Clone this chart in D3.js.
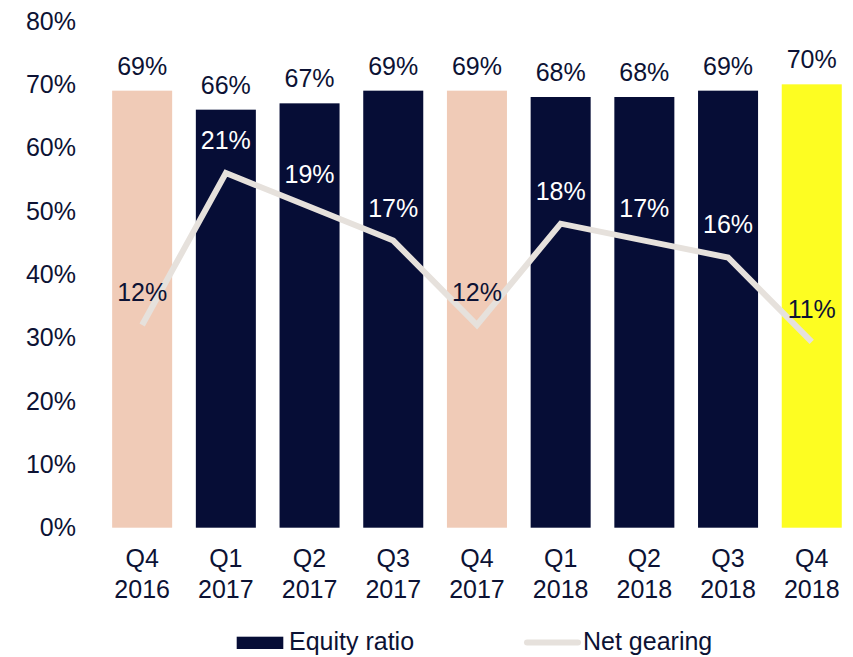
<!DOCTYPE html>
<html>
<head>
<meta charset="utf-8">
<script src="https://cdn.jsdelivr.net/npm/d3@7"></script>
<style>
  body { margin: 0; background: #fff; }
  svg text { font-family: "Liberation Sans", Arial, sans-serif; }
</style>
</head>
<body>
<div id="chart"></div>
<script>
'use strict';

var quarters = ['Q4', 'Q1', 'Q2', 'Q3', 'Q4', 'Q1', 'Q2', 'Q3', 'Q4'];
var years = ['2016', '2017', '2017', '2017', '2017', '2018', '2018', '2018', '2018'];
var equityRatio = [69, 66, 67, 69, 69, 68, 68, 69, 70];
var netGearing = [12, 21, 19, 17, 12, 18, 17, 16, 11];
var yTicks = [0, 10, 20, 30, 40, 50, 60, 70, 80];

var myApp = {};
myApp.w = 853;
myApp.h = 657;
myApp.fs = '25px';
myApp.navy = '#060d36';
myApp.peach = '#f0cbb7';
myApp.yellow = '#fdfd22';
myApp.lineCol = '#e6e1dc';
myApp.textCol = '#0c1234';

myApp.barColor = function(i) {
    if (i === 0 || i === 4) return myApp.peach;
    if (i === 8) return myApp.yellow;
    return myApp.navy;
};

myApp.run = function() {
    var svg = d3.select('#chart').append('svg')
        .attr('width', myApp.w)
        .attr('height', myApp.h);

    var idx = d3.range(equityRatio.length);

    var x = d3.scaleBand()
        .domain(idx)
        .range([100.3, 853.6])
        .paddingInner(0.283)
        .paddingOuter(0.1415);

    var y = d3.scaleLinear().domain([0, 80]).range([527.7, 21]);
    // net gearing sits on a hidden secondary axis, 0-30%
    var y2 = d3.scaleLinear().domain([0, 30]).range([527.7, 21]);

    // y axis labels
    svg.append('g').selectAll('text')
        .data(yTicks)
        .enter().append('text')
        .attr('x', 76)
        .attr('y', function(d) { return y(d); })
        .attr('dy', '0.35em')
        .attr('text-anchor', 'end')
        .style('font-size', myApp.fs)
        .style('fill', myApp.textCol)
        .text(function(d) { return d + '%'; });

    // bars
    svg.append('g').selectAll('rect')
        .data(idx)
        .enter().append('rect')
        .attr('x', function(i) { return x(i); })
        .attr('y', function(i) { return y(equityRatio[i]); })
        .attr('width', x.bandwidth())
        .attr('height', function(i) { return y(0) - y(equityRatio[i]); })
        .style('fill', function(i) { return myApp.barColor(i); });

    // bar labels
    svg.append('g').selectAll('text')
        .data(idx)
        .enter().append('text')
        .attr('x', function(i) { return x(i) + x.bandwidth() / 2; })
        .attr('y', function(i) { return y(equityRatio[i]) - 16; })
        .attr('text-anchor', 'middle')
        .style('font-size', myApp.fs)
        .style('fill', myApp.textCol)
        .text(function(i) { return equityRatio[i] + '%'; });

    // category labels
    var cat = svg.append('g').selectAll('text')
        .data(idx)
        .enter().append('text')
        .attr('text-anchor', 'middle')
        .style('font-size', myApp.fs)
        .style('fill', myApp.textCol);
    cat.append('tspan')
        .attr('x', function(i) { return x(i) + x.bandwidth() / 2; })
        .attr('y', y(0) + 39.5)
        .text(function(i) { return quarters[i]; });
    cat.append('tspan')
        .attr('x', function(i) { return x(i) + x.bandwidth() / 2; })
        .attr('y', y(0) + 70.5)
        .text(function(i) { return years[i]; });

    // net gearing line
    var line = d3.line()
        .x(function(i) { return x(i) + x.bandwidth() / 2; })
        .y(function(i) { return y2(netGearing[i]); });

    svg.append('path')
        .datum(idx)
        .attr('d', line)
        .style('fill', 'none')
        .style('stroke', myApp.lineCol)
        .style('stroke-width', 6)
        .style('stroke-linejoin', 'miter');

    svg.append('g').selectAll('text')
        .data(idx)
        .enter().append('text')
        .attr('x', function(i) { return x(i) + x.bandwidth() / 2; })
        .attr('y', function(i) { return y2(netGearing[i]) - 24; })
        .attr('text-anchor', 'middle')
        .style('font-size', myApp.fs)
        .style('fill', function(i) { return myApp.barColor(i) === myApp.navy ? '#ffffff' : myApp.textCol; })
        .text(function(i) { return netGearing[i] + '%'; });

    // legend
    var lg = svg.append('g');
    lg.append('rect')
        .attr('x', 236.7).attr('y', 636.7)
        .attr('width', 46.6).attr('height', 12.3)
        .style('fill', myApp.navy);
    lg.append('text')
        .attr('x', 289).attr('y', 650)
        .style('font-size', myApp.fs)
        .style('fill', myApp.textCol)
        .text('Equity ratio');
    lg.append('line')
        .attr('x1', 527).attr('x2', 578)
        .attr('y1', 642.5).attr('y2', 642.5)
        .style('stroke', myApp.lineCol)
        .style('stroke-width', 6)
        .style('stroke-linecap', 'round');
    lg.append('text')
        .attr('x', 583).attr('y', 650)
        .style('font-size', myApp.fs)
        .style('fill', myApp.textCol)
        .text('Net gearing');
};

myApp.run();
</script>
</body>
</html>
